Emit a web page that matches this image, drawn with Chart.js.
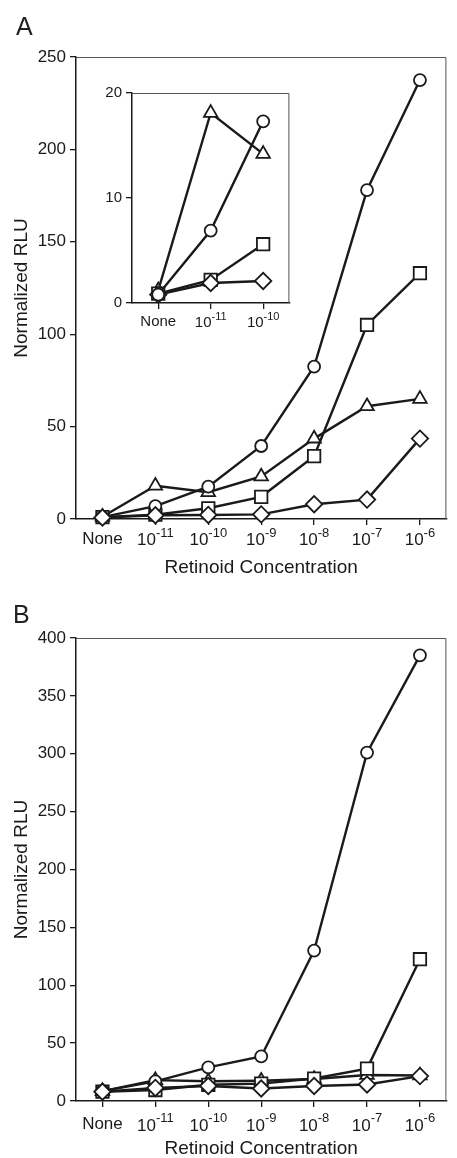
<!DOCTYPE html>
<html><head><meta charset="utf-8">
<script src="https://cdn.jsdelivr.net/npm/chart.js@4.4.1/dist/chart.umd.min.js"></script>
<style>
html,body{margin:0;padding:0;background:#fff;width:457px;height:1158px;overflow:hidden;}
.wrap{position:absolute;}
canvas{display:block;}
.plabel{position:absolute;font-family:"Liberation Sans",Arial,sans-serif;font-size:25px;line-height:25px;color:#222;}
</style></head><body>
<div class="wrap" style="left:0;top:0;"><canvas id="cA" width="457" height="580"></canvas></div>
<div class="wrap" style="left:100px;top:80px;"><canvas id="cI" width="200" height="260"></canvas></div>
<div class="wrap" style="left:0;top:580px;"><canvas id="cB" width="457" height="578"></canvas></div>
<div class="plabel" style="left:16px;top:14px">A</div>
<div class="plabel" style="left:13px;top:602px">B</div>
<script>
// ---------- data ----------
const concLabels = ['None', '10⁻¹¹', '10⁻¹⁰', '10⁻⁹', '10⁻⁸', '10⁻⁷', '10⁻⁶'];
const concBases = ['None', '10', '10', '10', '10', '10', '10'];
const concExponents = ['', '-11', '-10', '-9', '-8', '-7', '-6'];

// Panel A
const circleA   = [1.0, 7.0, 17.5, 39.5, 82.5, 178, 237.5];
const squareA   = [1.0, 2.3, 5.8, 12, 34, 105, 133];
const triangleA = [1.2, 18, 14.5, 23, 43.5, 61, 65];
const diamondA  = [0.8, 2.0, 2.2, 2.5, 8, 10.5, 43.5];

// Panel A inset (first three concentrations)
const insetLabels = concLabels.slice(0, 3);
const circleInset   = [0.8, 6.9, 17.3];
const squareInset   = [0.9, 2.2, 5.6];
const triangleInset = [1.2, 18.1, 14.2];
const diamondInset  = [0.8, 1.9, 2.1];

// Panel B
const circleB   = [8.5, 17, 29, 38.5, 130, 301, 385];
const squareB   = [8, 9.5, 14, 15, 19.4, 28, 122.5];
const triangleB = [8.5, 18, 17, 17.5, 19, 22.5, 22];
const diamondB  = [8, 11.3, 13, 10.8, 13, 14.3, 21.5];

const yTicksA = {min: 0, max: 250, step: 50};
const yTicksInset = {min: 0, max: 20, step: 10};
const yTicksB = {min: 0, max: 400, step: 50};

// ---------- drawing ----------
const FONT = '"Liberation Sans", Arial, Helvetica, sans-serif';
Chart.defaults.font.family = FONT;
const INK = '#1a1a1a';

const customPlugin = {
  id: 'custom',
  beforeDatasetsDraw(chart, args, opts) {
    const ctx = chart.ctx, a = chart.chartArea;
    ctx.save();
    ctx.strokeStyle = '#555';
    ctx.lineWidth = 1;
    ctx.beginPath();
    ctx.moveTo(a.left, a.top + 0.5);
    ctx.lineTo(a.right - 0.5, a.top + 0.5);
    ctx.lineTo(a.right - 0.5, a.bottom);
    ctx.stroke();
    ctx.restore();
  },
  afterDraw(chart, args, opts) {
    const ctx = chart.ctx, xs = chart.scales.x;
    ctx.save();
    ctx.fillStyle = INK;
    ctx.textBaseline = 'middle';
    ctx.textAlign = 'left';
    chart.data.labels.forEach((lab, i) => {
      const x = xs.getPixelForTick(i);
      const base = concBases[i], exp = concExponents[i];
      ctx.font = opts.size + 'px ' + FONT;
      const bw = ctx.measureText(base).width;
      let ew = 0;
      if (exp) { ctx.font = opts.supSize + 'px ' + FONT; ew = ctx.measureText(exp).width; }
      const x0 = x - (bw + ew) / 2;
      const y = xs.top + (exp ? opts.dyExp : opts.dy);
      ctx.font = opts.size + 'px ' + FONT;
      ctx.fillText(base, x0, y);
      if (exp) {
        ctx.font = opts.supSize + 'px ' + FONT;
        ctx.fillText(exp, x0 + bw, y - opts.raise);
      }
    });
    if (opts.title) {
      ctx.textAlign = 'center';
      ctx.font = '19px ' + FONT;
      ctx.fillText(opts.title, (chart.chartArea.left + chart.chartArea.right) / 2, xs.top + opts.titleDy);
    }
    ctx.restore();
  }
};

function series(data, style, order) {
  const radius = {circle: 6, rect: 8.8, triangle: 7.8, rectRot: 8.2}[style];
  return {
    data, pointStyle: style, pointRadius: radius, pointHoverRadius: radius,
    borderColor: INK, backgroundColor: '#fff', pointBackgroundColor: '#fff',
    pointBorderColor: INK, pointBorderWidth: 1.8, borderWidth: 2.4,
    tension: 0, clip: false, order
  };
}

function makeChart(id, labels, sets, yt, cfg) {
  const o = cfg.order;
  return new Chart(document.getElementById(id), {
    type: 'line',
    data: {
      labels,
      datasets: [
        series(sets[0], 'circle', o[0]),
        series(sets[1], 'rect', o[1]),
        series(sets[2], 'triangle', o[2]),
        series(sets[3], 'rectRot', o[3])
      ]
    },
    options: {
      responsive: false, animation: false, events: [],
      layout: {padding: {top: cfg.top, right: cfg.right, left: 0, bottom: 0}},
      plugins: {
        legend: {display: false}, tooltip: {enabled: false},
        custom: cfg.labels
      },
      scales: {
        x: {
          type: 'category', offset: true,
          grid: {drawOnChartArea: false, drawTicks: true, tickLength: 6, color: INK, lineWidth: 1.3},
          border: {display: true, color: INK, width: 1.5},
          ticks: {display: false},
          afterFit: s => { s.height = cfg.H; }
        },
        y: {
          min: yt.min, max: yt.max,
          ticks: {stepSize: yt.step, color: INK, font: {size: cfg.yFont}, padding: 4},
          grid: {drawOnChartArea: false, drawTicks: true, tickLength: 6, color: INK, lineWidth: 1.3},
          border: {display: true, color: INK, width: 1.5},
          title: {display: !!cfg.yTitle, text: cfg.yTitle || '', color: INK, font: {size: 19}, padding: {top: 10, bottom: 0}},
          afterFit: s => { s.width = cfg.W; }
        }
      }
    },
    plugins: [customPlugin]
  });
}

makeChart('cA', concLabels, [circleA, squareA, triangleA, diamondA], yTicksA, {
  top: 57, right: 0, H: 61, W: 76, yFont: 17, yTitle: 'Normalized RLU', order: [1, 2, 3, 0],
  labels: {size: 17, supSize: 13, dy: 20, dyExp: 21, raise: 7, title: 'Retinoid Concentration', titleDy: 49}
});
makeChart('cI', insetLabels, [circleInset, squareInset, triangleInset, diamondInset], yTicksInset, {
  top: 13, right: 4, H: 37, W: 32, yFont: 15, yTitle: '', order: [0, 2, 3, 1],
  labels: {size: 15, supSize: 11, dy: 19, dyExp: 20, raise: 6, title: '', titleDy: 0}
});
makeChart('cB', concLabels, [circleB, squareB, triangleB, diamondB], yTicksB, {
  top: 58, right: 0, H: 57, W: 76, yFont: 17, yTitle: 'Normalized RLU', order: [1, 2, 3, 0],
  labels: {size: 17, supSize: 13, dy: 23, dyExp: 25, raise: 8, title: 'Retinoid Concentration', titleDy: 48}
});
</script>
</body></html>
